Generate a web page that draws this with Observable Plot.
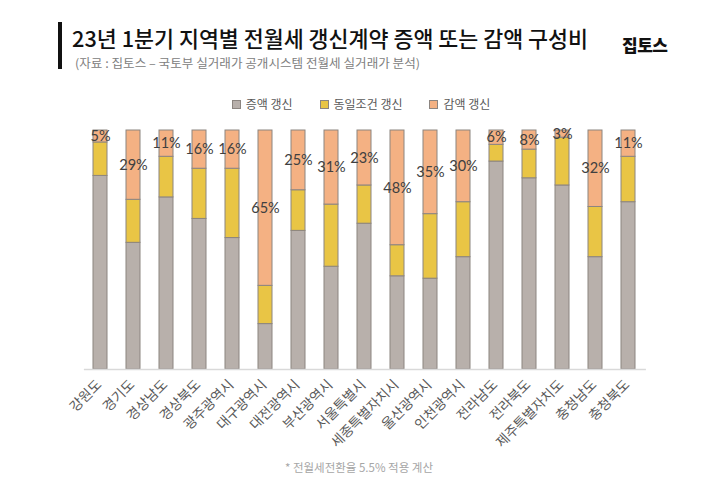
<!DOCTYPE html>
<html>
<head>
<meta charset="utf-8">
<script src="https://cdn.jsdelivr.net/npm/d3@7"></script>
<script src="https://cdn.jsdelivr.net/npm/@observablehq/plot@0.6"></script>
<style>
  body { margin: 0; background: #fff; }
  #wrap { position: relative; width: 720px; height: 494px; background: #fff; overflow: hidden; font-family: "Noto Sans CJK KR", "Noto Sans", sans-serif; }
  #vbar { position: absolute; left: 58px; top: 22px; width: 4px; height: 47px; background: #111; }
  #title { position: absolute; left: 72px; top: 26px; font-size: 22px; line-height: 22px; font-weight: 500; color: #111; white-space: nowrap; transform-origin: 0 0; }
  #sub { position: absolute; left: 75px; top: 57px; font-size: 12px; line-height: 12px; color: #808080; white-space: nowrap; transform-origin: 0 0; }
  #logo { position: absolute; left: 622px; top: 36px; font-size: 17px; line-height: 17px; font-weight: 900; color: #111; white-space: nowrap; letter-spacing: -0.5px; }
  #legend { position: absolute; left: 0; top: 97px; width: 722px; display: flex; justify-content: center; gap: 27px; font-size: 12px; line-height: 14px; color: #595959; }
  #legend .item { display: flex; align-items: center; }
  #legend .sw { width: 7px; height: 7px; margin-right: 5px; border: 1px solid #8c8580; }
  #chart { position: absolute; left: 0; top: 120px; }
  #foot { position: absolute; left: 0; width: 718px; text-align: center; top: 461px; font-size: 11.5px; line-height: 12px; color: #a6a6a6; }
</style>
</head>
<body>
<div id="wrap">
  <div id="vbar"></div>
  <div id="title">23년 1분기 지역별 전월세 갱신계약 증액 또는 감액 구성비</div>
  <div id="sub">(자료 : 집토스 – 국토부 실거래가 공개시스템 전월세 실거래가 분석)</div>
  <div id="logo">집토스</div>
  <div id="legend"></div>
  <div id="chart"></div>
  <div id="foot">* 전월세전환율 5.5% 적용 계산</div>
</div>
<script>
const regions = ["강원도","경기도","경상남도","경상북도","광주광역시","대구광역시","대전광역시","부산광역시","서울특별시","세종특별자치시","울산광역시","인천광역시","전라남도","전라북도","제주특별자치도","충청남도","충청북도"];
const seriesNames = ["증액 갱신","동일조건 갱신","감액 갱신"];
const increase = [81,53,72,63,55,19,58,43,61,39,38,47,87,80,77,47,70];
const same     = [14,18,17,21,29,16,17,26,16,13,27,23,7,12,20,21,19];
const decrease = [5,29,11,16,16,65,25,31,23,48,35,30,6,8,3,32,11];
const colors = ["#b8b0ab","#e9c545","#f4b183"];

const seriesValues = [increase, same, decrease];
const rows = [];
regions.forEach((r, i) => {
  seriesNames.forEach((s, j) => rows.push({region: r, series: s, value: seriesValues[j][i]}));
});

// legend
const legend = document.getElementById("legend");
seriesNames.forEach((s, j) => {
  const item = document.createElement("div");
  item.className = "item";
  const sw = document.createElement("span");
  sw.className = "sw";
  sw.style.background = colors[j];
  const t = document.createElement("span");
  t.textContent = s;
  item.appendChild(sw); item.appendChild(t);
  legend.appendChild(item);
});

const chart = Plot.plot({
  width: 720,
  height: 340,
  marginTop: 10,
  marginBottom: 91,
  marginLeft: 73.9,
  marginRight: 65.1,
  style: {fontFamily: "'Noto Sans CJK KR', sans-serif", background: "#fff"},
  x: {domain: regions, padding: 0.577, axis: null},
  y: {domain: [0, 100], axis: null},
  color: {domain: seriesNames, range: colors},
  marks: [
    Plot.barY(rows, {x: "region", y: "value", z: "series", fill: "series", stroke: "#8c8580", strokeWidth: 1}),
    Plot.ruleY([0], {stroke: "#d9d9d9", strokeWidth: 1.5, insetLeft: 10, insetRight: 9}),
    Plot.text(rows, Plot.stackY({
      x: "region", y: "value", z: "series",
      text: d => d.series === "감액 갱신" ? d.value + "%" : "",
      fontFamily: "Lato, sans-serif", fontSize: 14.5, fill: "#404040"
    })),
    Plot.text(regions, {
      x: d => d, text: d => d, frameAnchor: "bottom",
      rotate: -45, textAnchor: "end", dy: 16, dx: 2,
      fontSize: 13.8, fill: "#595959"
    })
  ]
});
document.getElementById("chart").appendChild(chart);

function fitWidth(id, target) {
  const el = document.getElementById(id);
  const w = el.getBoundingClientRect().width;
  el.style.transform = `scaleX(${target / w})`;
}
fitWidth("title", 516);
fitWidth("sub", 345);
</script>
</body>
</html>
